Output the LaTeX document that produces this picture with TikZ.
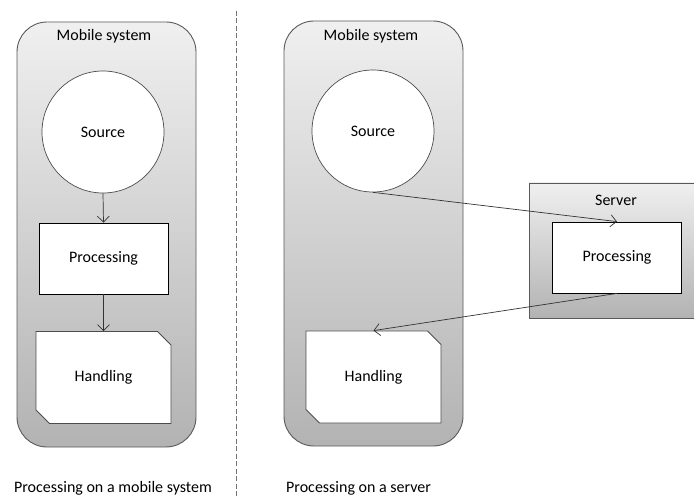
\documentclass[tikz,border=0pt]{standalone}
\usepackage{fontspec}
\setmainfont{Carlito}
\usetikzlibrary{shapes.misc, positioning, arrows.meta}
\tikzstyle{container} = [draw=black!65, line width=0.9pt, rounded corners=30pt,
    top color=black!6, bottom color=black!30, minimum width=179pt, minimum height=425pt]
\tikzstyle{hostbox} = [draw=black!65, line width=0.9pt,
    top color=black!6, bottom color=black!30, minimum width=171pt, minimum height=135pt]
\tikzstyle{source} = [circle, draw=black!70, fill=white, line width=0.7pt, minimum size=122pt]
\tikzstyle{proc} = [rectangle, draw=black, fill=white, line width=0.8pt,
    minimum width=129pt, minimum height=71pt]
\tikzstyle{handle} = [chamfered rectangle, chamfered rectangle corners={north east,south west},
    chamfered rectangle xsep=15pt, draw=black!70, fill=white, line width=0.8pt,
    minimum width=135pt, minimum height=92pt]
\tikzstyle{arrow} = [line width=0.7pt, black!80, -{Straight Barb[length=6pt,width=12pt]}]

\begin{document}
\begin{tikzpicture}
    [x=1pt, y=-1pt, every node/.style={font=\fontsize{16pt}{19pt}\selectfont}]
    \clip (0,0) rectangle (694,497);
    \fill[white] (0,0) rectangle (694,497);
    % processing on the mobile system
    \node[container] (mob1) at (106.5,234.5) {};
    \node (title1) at (104,36) {Mobile system};
    \node[source] (src1) at (103,132) {Source};
    \node[proc] (proc1) at (103.5,258.5) {Processing};
    \node[handle] (hand1) at (103.5,377.5) {Handling};
    \node (cap1) at (113,488) {Processing on a mobile system};
    % divider
    \coordinate (top) at (236,11);
    \coordinate (bottom) at (236,497);
    \draw[black!55, dashed, line width=0.8pt, dash pattern=on 5pt off 2.5pt] (top) -- (bottom);
    % processing on a server
    \node[container] (mob2) at (373.5,233.5) {};
    \node (title2) at (371,36) {Mobile system};
    \node[source] (src2) at (373,131) {Source};
    \node[handle] (hand2) at (373.5,377) {Handling};
    \node[hostbox] (srv) at (614.5,250.5) {};
    \node (title3) at (616,200) {Server};
    \node[proc] (proc2) at (617,257.5) {Processing};
    \node[anchor=west, inner sep=0pt] (cap2) at (286,488) {Processing on a server};
    \foreach \from/\to in {src1/proc1, proc1/hand1, src2/proc2, proc2/hand2}
    \draw[arrow] (\from.south) -- (\to.north);
\end{tikzpicture}
\end{document}
